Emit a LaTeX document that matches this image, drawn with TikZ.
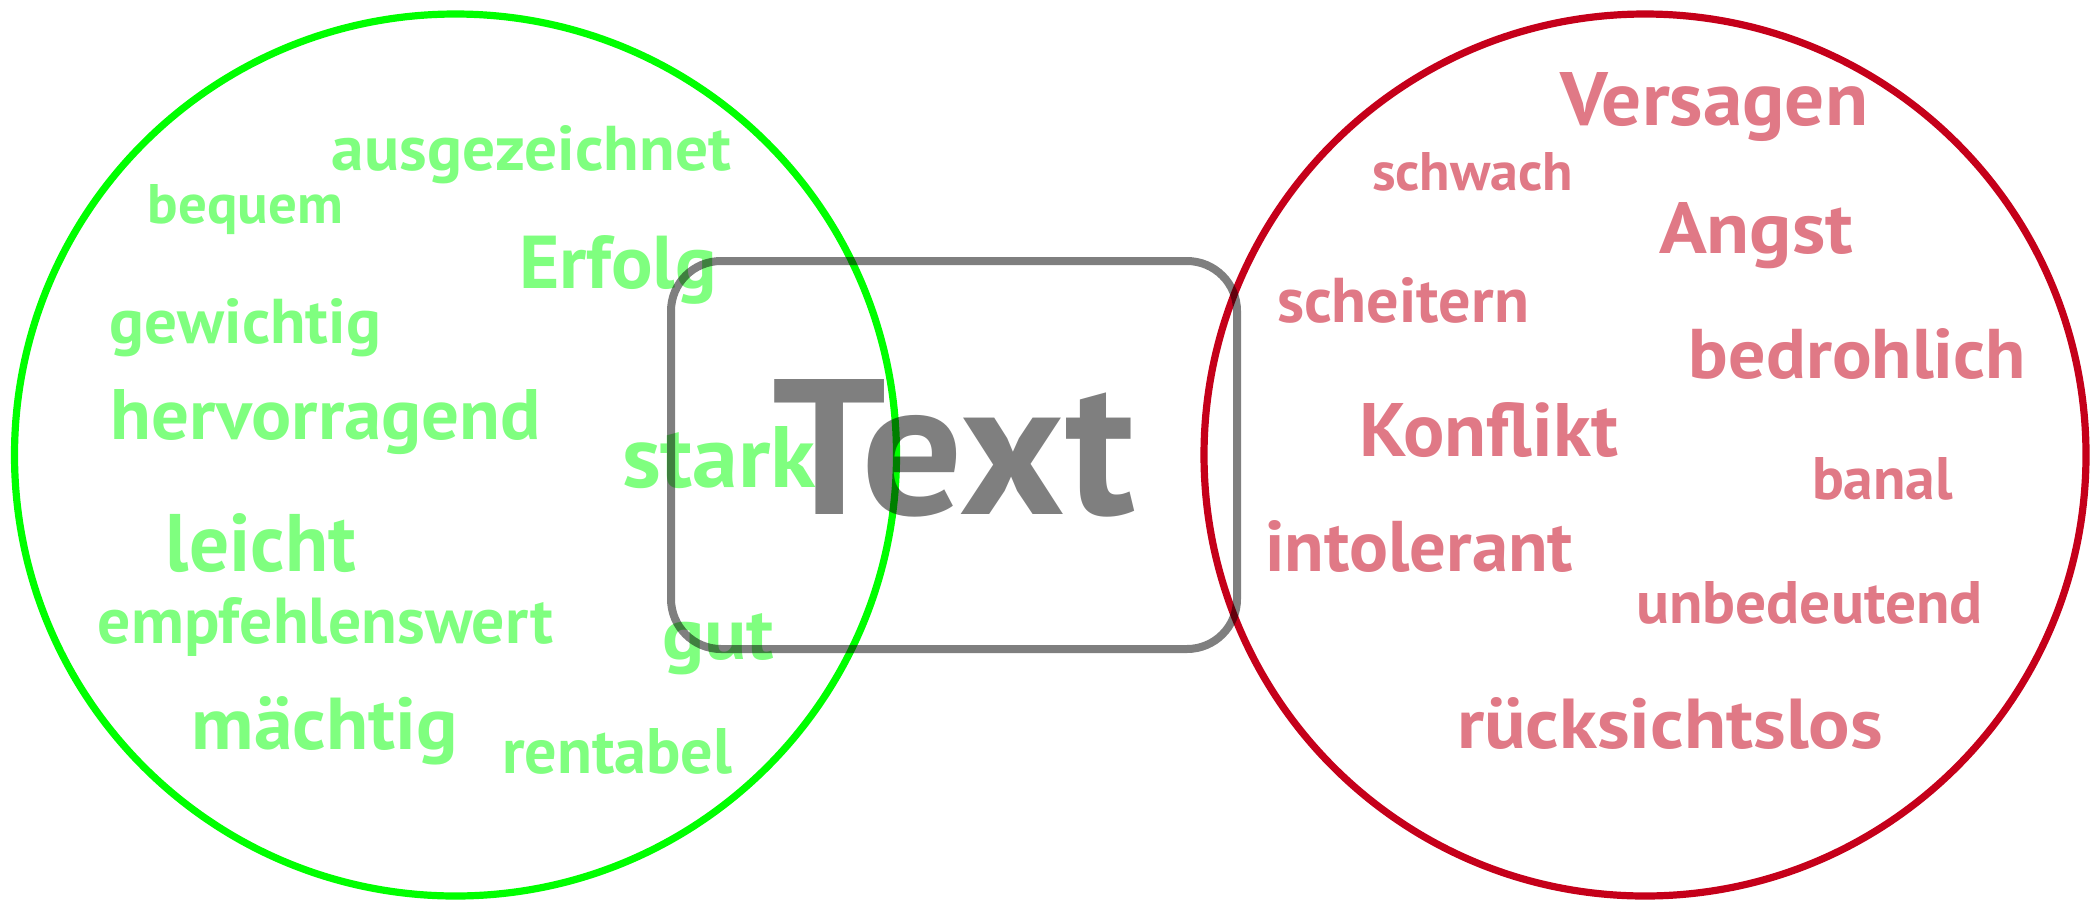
\documentclass[tikz,border=0pt]{standalone}
\usepackage{fontspec}
\setmainfont{PT Sans}
\usepackage{graphicx}
\newlength\pxu
\setlength\pxu{0.1mm}
\newcommand\fitword[3]{\resizebox{#1\pxu}{#2\pxu}{\bfseries #3}}
\definecolor{cgreen}{RGB}{0,255,0}
\definecolor{cred}{RGB}{197,0,26}
\definecolor{credtext}{RGB}{224,121,134}
\tikzset{
  ring/.style={line width=0.72mm},
  goodword/.style={anchor=base, inner sep=0pt, text=cgreen, text opacity=0.5},
  badword/.style={anchor=base, inner sep=0pt, text=credtext},
  frame/.style={draw=black, draw opacity=0.5, line width=0.8mm, rounded corners=5mm},
  mainword/.style={anchor=base, inner sep=0pt, text=black, text opacity=0.5}
}
\begin{document}
\begin{tikzpicture}[x=0.1mm,y=-0.1mm]
\useasboundingbox (0,0) rectangle (2100,911);
% circles
\draw[ring, cgreen] (455.5,455) circle[radius=44.1mm];
\draw[ring, cred] (1645,455) circle[radius=44.1mm];
% positive words
\node[goodword] (w1) at (531.5,170) {\fitword{399}{45}{ausgezeichnet}};
\node[goodword] (w2) at (245.5,223) {\fitword{195}{39}{bequem}};
\node[goodword] (w3) at (618,288) {\fitword{198}{53}{Erfolg}};
\node[goodword] (w4) at (245.5,343) {\fitword{271}{45}{gewichtig}};
\node[goodword] (w5) at (326,439) {\fitword{430}{50}{hervorragend}};
\node[goodword] (w6) at (719,487) {\fitword{194}{61}{stark}};
\node[goodword] (w7) at (261,571) {\fitword{190}{58}{leicht}};
\node[goodword] (w8) at (325.5,643) {\fitword{455}{46}{empfehlenswert}};
\node[goodword] (w9) at (718,659) {\fitword{112}{46}{gut}};
\node[goodword] (w10) at (325,749) {\fitword{266}{53}{mächtig}};
\node[goodword] (w11) at (617,773) {\fitword{230}{45}{rentabel}};
% negative words
\node[badword] (n1) at (1714,125) {\fitword{308}{53}{Versagen}};
\node[badword] (n2) at (1472.5,190) {\fitword{201}{38}{schwach}};
\node[badword] (n3) at (1756,253) {\fitword{194}{51}{Angst}};
\node[badword] (n4) at (1403,322) {\fitword{252}{45}{scheitern}};
\node[badword] (n5) at (1857.5,378) {\fitword{337}{50}{bedrohlich}};
\node[badword] (n6) at (1488.5,456) {\fitword{259}{54}{Konflikt}};
\node[badword] (n7) at (1882.5,499) {\fitword{141}{42}{banal}};
\node[badword] (n8) at (1419,571) {\fitword{308}{51}{intolerant}};
\node[badword] (n9) at (1809.5,623) {\fitword{347}{42}{unbedeutend}};
\node[badword] (n10) at (1670,748) {\fitword{426}{51}{rücksichtslos}};
% central box
\node[frame, minimum width=56.6mm, minimum height=38.8mm, inner sep=0pt] (box) at (954,455) {};
\node[mainword] (txt) at (954,514) {\fitword{362}{135}{Text}};
\end{tikzpicture}
\end{document}
